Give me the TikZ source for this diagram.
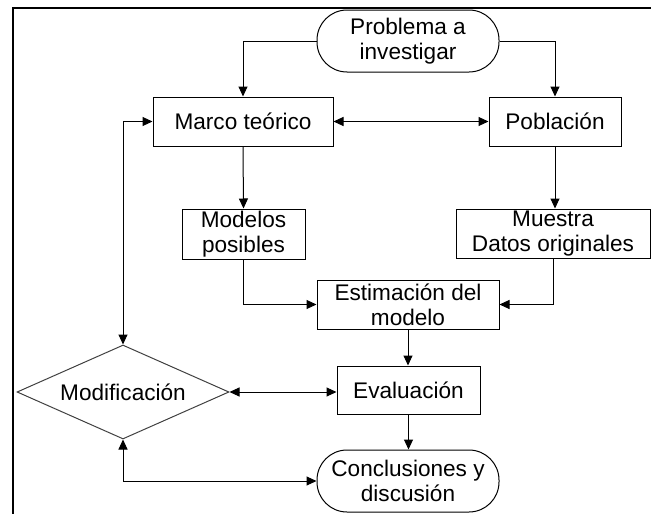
\documentclass[tikz,border=0pt]{standalone}
\usepackage{fontspec}
\setmainfont{Liberation Sans}
\usetikzlibrary{arrows.meta,shapes.geometric}
\begin{document}
\begin{tikzpicture}[x=1pt,y=-1pt,
  every node/.style={font=\fontsize{22.6}{25}\selectfont, inner sep=0pt, align=center},
  box/.style={draw, line width=1pt},
  term/.style={draw, line width=1pt, rounded corners=30pt},
  decision/.style={draw=black!75, line width=1pt, diamond, aspect=2.25},
  link/.style={line width=1pt, -{Triangle[length=10pt,width=9pt]}},
  dlink/.style={line width=1pt, {Triangle[length=10pt,width=9pt]}-{Triangle[length=10pt,width=9pt]}}
]
\useasboundingbox (0,0) rectangle (651,514);
% outer frame
\draw[line width=2.5pt] (13,514) -- (13,8) -- (651,8);

% nodes
\node[term, minimum width=182pt, minimum height=62pt] (prob) at (408,41) {Problema a\\investigar};
\node[box, minimum width=180pt, minimum height=49pt] (marco) at (243,121.5) {Marco teórico};
\node[box, minimum width=132pt, minimum height=49pt] (pobl) at (555,121.5) {Población};
\node[box, minimum width=123pt, minimum height=50pt] (mod) at (243.5,234) {Modelos\\posibles};
\node[box, minimum width=194pt, minimum height=49pt] (mue) at (553,233.5) {Muestra\\Datos originales};
\node[box, minimum width=182pt, minimum height=49pt] (est) at (408,304.5) {Estimación del\\modelo};
\node[draw=black!75, line width=1pt, diamond, minimum width=212pt, minimum height=94pt] (modif) at (123,392) {};
\node at (modif) {Modificación};
\node[box, minimum width=143pt, minimum height=48pt] (eval) at (408.5,390) {Evaluación};
\node[term, minimum width=182pt, minimum height=62pt] (concl) at (408,481) {Conclusiones y\\discusión};

% connectors
\draw[link] (prob.west) -| (marco.north);
\draw[link] (prob.east) -| (pobl.north);
\draw[dlink] (marco.east) -- (pobl.west);
\draw[link] (marco.south) -- (mod.north);
\draw[link] (pobl.south) -- (pobl.south |- mue.north);
\draw[link] (mod.south) |- (est.west);
\draw[link] (mue.south) |- (est.east);
\draw[link] (est.south) -- (est.south |- eval.north);
\draw[link] (eval.south) -- (eval.south |- concl.north);
\draw[dlink] (modif.east) -- (modif.east -| eval.west);
\draw[dlink] (modif.north) |- (marco.west);
\draw[dlink] (modif.south) |- (concl.west);
\end{tikzpicture}
\end{document}
